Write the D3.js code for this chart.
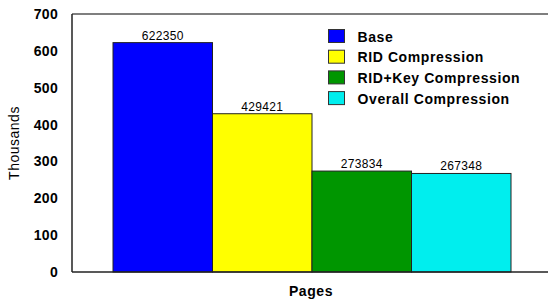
<!DOCTYPE html>
<html>
<head>
<meta charset="utf-8">
<script src="https://cdn.jsdelivr.net/npm/d3@7"></script>
<style>
  body { margin: 0; background: #fff; }
  text { font-family: "Liberation Sans", Arial, sans-serif; }
</style>
</head>
<body>
<script>
// data
var series = ["Base", "RID Compression", "RID+Key Compression", "Overall Compression"];
var values = [622350, 429421, 273834, 267348];
var colors = ["#0000ff", "#ffff00", "#009600", "#00eeee"];
var yTicks = [0, 100, 200, 300, 400, 500, 600, 700];

var W = 548, H = 300;
var plotL = 72, plotT = 14, plotR = 548, plotB = 272;

var svg = d3.select("body").append("svg")
    .attr("width", W)
    .attr("height", H);

var y = d3.scaleLinear().domain([0, 700]).range([plotB, plotT]);
var x = d3.scaleBand().domain(series).range([113, 511]).padding(0);

// bars
svg.selectAll("rect.bar")
    .data(values)
    .enter().append("rect")
    .attr("class", "bar")
    .attr("x", function(d, i) { return x(series[i]); })
    .attr("y", function(d) { return y(d / 1000); })
    .attr("width", x.bandwidth())
    .attr("height", function(d) { return plotB - y(d / 1000); })
    .style("fill", function(d, i) { return colors[i]; })
    .style("stroke", "#222")
    .style("stroke-width", 1);

// value labels
svg.selectAll("text.val")
    .data(values)
    .enter().append("text")
    .attr("class", "val")
    .attr("x", function(d, i) { return x(series[i]) + x.bandwidth() / 2; })
    .attr("y", function(d) { return y(d / 1000) - 3; })
    .attr("text-anchor", "middle")
    .style("font-size", "12px")
    .style("letter-spacing", "0.3px")
    .text(function(d) { return d; });

// frame (left, top, bottom)
svg.append("line").attr("x1", plotL).attr("x2", plotR).attr("y1", plotT).attr("y2", plotT)
    .style("stroke", "#555").style("stroke-width", 1.5);
svg.append("line").attr("x1", plotL).attr("x2", plotL).attr("y1", plotT).attr("y2", plotB)
    .style("stroke", "#222").style("stroke-width", 1.5);
svg.append("line").attr("x1", plotL).attr("x2", plotR).attr("y1", plotB).attr("y2", plotB)
    .style("stroke", "#222").style("stroke-width", 1.5);

// y axis labels
var yAxis = d3.axisLeft(y).tickValues(yTicks).tickSize(0).tickPadding(14);
var gy = svg.append("g").attr("transform", "translate(" + plotL + ",0)").call(yAxis);
gy.select(".domain").remove();
gy.selectAll("text")
    .style("font-family", "'Liberation Sans', Arial, sans-serif")
    .style("font-size", "14px")
    .style("font-weight", "bold")
    .style("letter-spacing", "0.3px")
    .style("fill", "#000");

svg.append("text")
    .attr("transform", "translate(19,143) rotate(-90)")
    .attr("text-anchor", "middle")
    .style("font-size", "14px")
    .style("letter-spacing", "0.5px")
    .text("Thousands");

svg.append("text")
    .attr("x", 311)
    .attr("y", 296)
    .attr("text-anchor", "middle")
    .style("font-size", "14px")
    .style("font-weight", "bold")
    .style("letter-spacing", "0.6px")
    .text("Pages");

// legend
var leg = svg.selectAll("g.leg")
    .data(series)
    .enter().append("g")
    .attr("class", "leg")
    .attr("transform", function(d, i) { return "translate(328.5," + (29.5 + i * 20.7) + ")"; });

leg.append("rect")
    .attr("width", 16)
    .attr("height", 13)
    .style("fill", function(d, i) { return colors[i]; })
    .style("stroke", "#333")
    .style("stroke-width", 1);

leg.append("text")
    .attr("x", 29)
    .attr("y", 12)
    .style("font-size", "14px")
    .style("font-weight", "bold")
    .style("letter-spacing", "0.6px")
    .text(function(d) { return d; });
</script>
</body>
</html>
